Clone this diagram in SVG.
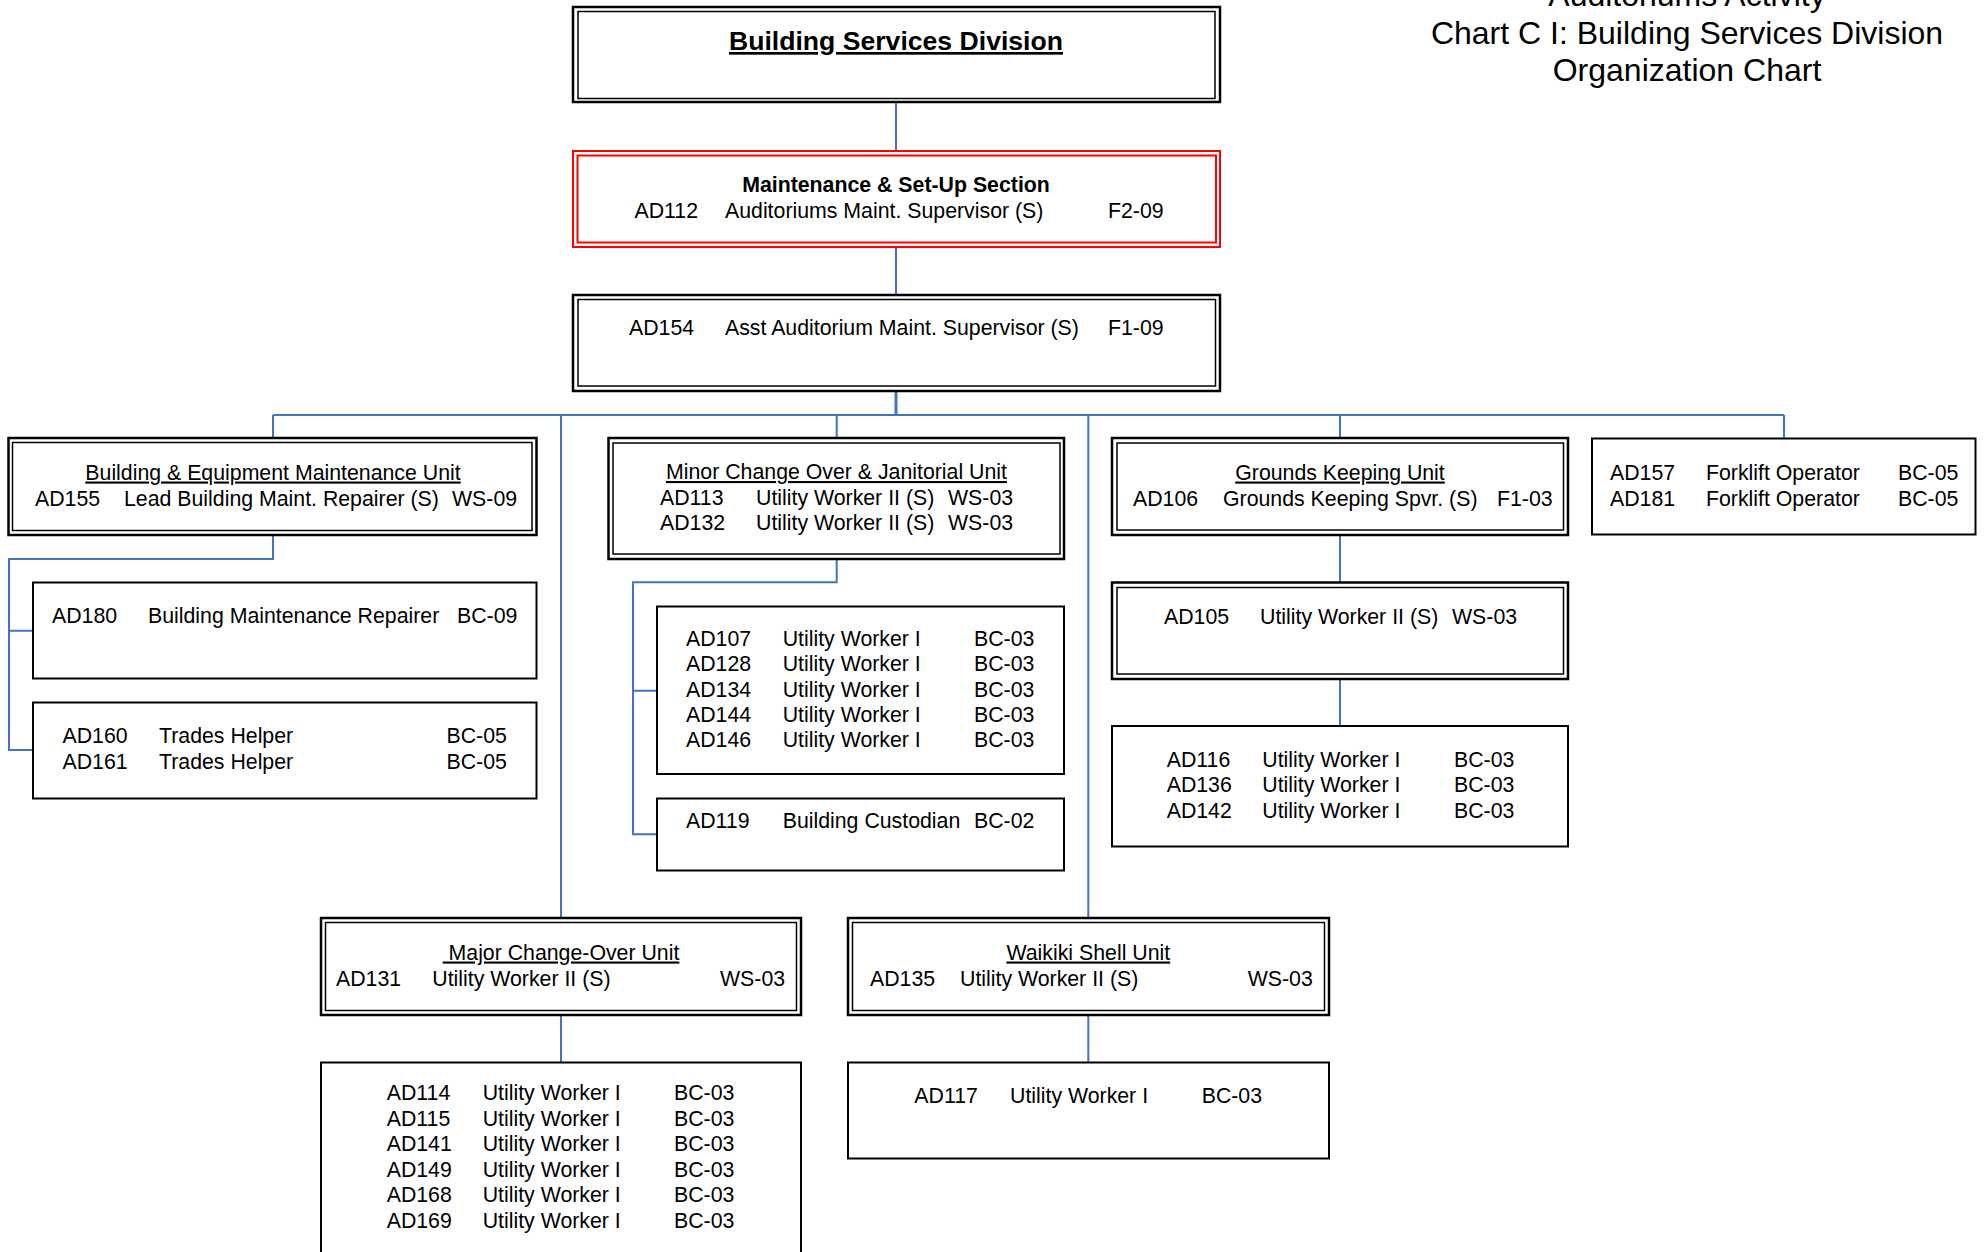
<svg xmlns="http://www.w3.org/2000/svg" width="1986" height="1252" viewBox="0 0 1986 1252">
<style>
text{font-family:"Liberation Sans",Arial,sans-serif;font-size:21.3px;fill:#000}
.t{text-anchor:middle;text-decoration:underline}
.b{font-weight:bold}
.h{font-size:32px;text-anchor:middle}
.o{fill:#fff;stroke:#000;stroke-width:2.5}
.i{fill:none;stroke:#000;stroke-width:1.5}
.s{fill:#fff;stroke:#000;stroke-width:2}
.r{fill:#fff;stroke:#f00;stroke-width:2}
.ri{fill:none;stroke:#f00;stroke-width:2}
.c{fill:none;stroke:#4472C4;stroke-width:2}
</style>
<rect width="1986" height="1252" fill="#fff"/>
<g id="chart-title">
<text class="h" x="1687" y="6">Auditoriums Activity</text>
<text class="h" x="1687" y="43.5">Chart C I: Building Services Division</text>
<text class="h" x="1687" y="81">Organization Chart</text>
</g>
<g id="connectors">
<path class="c" d="M896,103V151M896,247V295"/>
<path class="c" style="stroke-width:3" d="M896,391V415"/>
<path class="c" d="M273,415H1784M273,415V438M836.7,415V438M1340,415V438M1784,415V438.5M561,415V918M1088.3,415V918"/>
<path class="c" d="M273,535V559H9V750H33M9,630.7H33"/>
<path class="c" d="M836.7,559V582.3H633V834.3H657M633,690.7H657"/>
<path class="c" d="M1340,535V582.5M1340,679V726"/>
<path class="c" d="M561,1015V1062.5M1088.3,1015V1062.5"/>
</g>
<g id="division">
<rect class="o" x="573" y="7" width="647" height="95"/>
<rect class="i" x="578" y="11.5" width="637" height="87"/>
<text class="t b" x="896" y="50" style="font-size:26.6px">Building Services Division</text>
</g>
<g id="section">
<rect class="r" x="573" y="151" width="647" height="96"/>
<rect class="ri" x="577.5" y="155.5" width="638.5" height="87"/>
<text class="b" x="896" y="191.5" text-anchor="middle">Maintenance &amp; Set-Up Section</text>
<text x="634.5" y="217.5">AD112</text><text x="725" y="217.5">Auditoriums Maint. Supervisor (S)</text><text x="1108" y="217.5">F2-09</text>
</g>
<g id="asst">
<rect class="o" x="573" y="295" width="647" height="96"/>
<rect class="i" x="578" y="299.5" width="637.5" height="86.5"/>
<text x="629" y="335">AD154</text><text x="725" y="335">Asst Auditorium Maint. Supervisor (S)</text><text x="1108" y="335">F1-09</text>
</g>
<g id="bemu">
<rect class="o" x="8.5" y="438" width="528" height="97"/>
<rect class="i" x="12.5" y="442.5" width="519.5" height="88"/>
<text class="t" x="273" y="479.5">Building &amp; Equipment Maintenance Unit</text>
<text x="35" y="505.5">AD155</text><text x="124" y="505.5">Lead Building Maint. Repairer (S)</text><text x="452" y="505.5">WS-09</text>
</g>
<g id="ad180">
<rect class="s" x="33" y="582.5" width="503.5" height="96"/>
<text x="52" y="623">AD180</text><text x="148" y="623">Building Maintenance Repairer</text><text x="457" y="623">BC-09</text>
</g>
<g id="trades">
<rect class="s" x="33" y="702.5" width="503.5" height="96"/>
<text x="62.5" y="743">AD160</text><text x="159" y="743">Trades Helper</text><text x="446.5" y="743">BC-05</text>
<text x="62.5" y="769">AD161</text><text x="159" y="769">Trades Helper</text><text x="446.5" y="769">BC-05</text>
</g>
<g id="minor">
<rect class="o" x="608.5" y="438" width="455.5" height="121"/>
<rect class="i" x="613" y="443" width="447" height="111"/>
<text class="t" x="836.5" y="479">Minor Change Over &amp; Janitorial Unit</text>
<text x="660" y="504.5">AD113</text><text x="756" y="504.5">Utility Worker II (S)</text><text x="948" y="504.5">WS-03</text>
<text x="660" y="530.2">AD132</text><text x="756" y="530.2">Utility Worker II (S)</text><text x="948" y="530.2">WS-03</text>
</g>
<g id="minor-workers">
<rect class="s" x="657" y="606.5" width="407" height="167.5"/>
<text x="686" y="645.5">AD107</text><text x="782.7" y="645.5">Utility Worker I</text><text x="974" y="645.5">BC-03</text>
<text x="686" y="671">AD128</text><text x="782.7" y="671">Utility Worker I</text><text x="974" y="671">BC-03</text>
<text x="686" y="696.5">AD134</text><text x="782.7" y="696.5">Utility Worker I</text><text x="974" y="696.5">BC-03</text>
<text x="686" y="721.5">AD144</text><text x="782.7" y="721.5">Utility Worker I</text><text x="974" y="721.5">BC-03</text>
<text x="686" y="747">AD146</text><text x="782.7" y="747">Utility Worker I</text><text x="974" y="747">BC-03</text>
</g>
<g id="custodian">
<rect class="s" x="657" y="798.5" width="407" height="72"/>
<text x="686" y="827.5">AD119</text><text x="782.7" y="827.5">Building Custodian</text><text x="974" y="827.5">BC-02</text>
</g>
<g id="grounds">
<rect class="o" x="1112" y="438" width="456" height="97"/>
<rect class="i" x="1117" y="443" width="446.5" height="87"/>
<text class="t" x="1340" y="479.5">Grounds Keeping Unit</text>
<text x="1133" y="505.5">AD106</text><text x="1223" y="505.5">Grounds Keeping Spvr. (S)</text><text x="1497" y="505.5">F1-03</text>
</g>
<g id="ad105">
<rect class="o" x="1112" y="582.5" width="456" height="96.5"/>
<rect class="i" x="1117" y="587.5" width="446.5" height="86.5"/>
<text x="1164" y="623.5">AD105</text><text x="1260" y="623.5">Utility Worker II (S)</text><text x="1452" y="623.5">WS-03</text>
</g>
<g id="grounds-workers">
<rect class="s" x="1112" y="726" width="456" height="120.5"/>
<text x="1166.7" y="766.5">AD116</text><text x="1262.3" y="766.5">Utility Worker I</text><text x="1454" y="766.5">BC-03</text>
<text x="1166.7" y="792">AD136</text><text x="1262.3" y="792">Utility Worker I</text><text x="1454" y="792">BC-03</text>
<text x="1166.7" y="817.5">AD142</text><text x="1262.3" y="817.5">Utility Worker I</text><text x="1454" y="817.5">BC-03</text>
</g>
<g id="forklift">
<rect class="s" x="1592" y="438.5" width="383.5" height="96"/>
<text x="1610" y="479.5">AD157</text><text x="1706" y="479.5">Forklift Operator</text><text x="1898" y="479.5">BC-05</text>
<text x="1610" y="505.5">AD181</text><text x="1706" y="505.5">Forklift Operator</text><text x="1898" y="505.5">BC-05</text>
</g>
<g id="major">
<rect class="o" x="321" y="918" width="480" height="97"/>
<rect class="i" x="325.5" y="922.5" width="471" height="88"/>
<text class="t" x="561" y="959.5">&#160;Major Change-Over Unit</text>
<text x="336" y="985.5">AD131</text><text x="432.3" y="985.5">Utility Worker II (S)</text><text x="720" y="985.5">WS-03</text>
</g>
<g id="major-workers">
<rect class="s" x="321" y="1062.5" width="480" height="220"/>
<text x="386.7" y="1099.5">AD114</text><text x="482.7" y="1099.5">Utility Worker I</text><text x="674" y="1099.5">BC-03</text>
<text x="386.7" y="1125.5">AD115</text><text x="482.7" y="1125.5">Utility Worker I</text><text x="674" y="1125.5">BC-03</text>
<text x="386.7" y="1151.2">AD141</text><text x="482.7" y="1151.2">Utility Worker I</text><text x="674" y="1151.2">BC-03</text>
<text x="386.7" y="1176.5">AD149</text><text x="482.7" y="1176.5">Utility Worker I</text><text x="674" y="1176.5">BC-03</text>
<text x="386.7" y="1202.2">AD168</text><text x="482.7" y="1202.2">Utility Worker I</text><text x="674" y="1202.2">BC-03</text>
<text x="386.7" y="1227.5">AD169</text><text x="482.7" y="1227.5">Utility Worker I</text><text x="674" y="1227.5">BC-03</text>
</g>
<g id="waikiki">
<rect class="o" x="848" y="918" width="481" height="97"/>
<rect class="i" x="852.5" y="922.5" width="472" height="88"/>
<text class="t" x="1088.3" y="959.5">Waikiki Shell Unit</text>
<text x="870" y="985.5">AD135</text><text x="960" y="985.5">Utility Worker II (S)</text><text x="1247.7" y="985.5">WS-03</text>
</g>
<g id="waikiki-workers">
<rect class="s" x="848" y="1062.5" width="481" height="96"/>
<text x="914.3" y="1103">AD117</text><text x="1010" y="1103">Utility Worker I</text><text x="1201.7" y="1103">BC-03</text>
</g>
</svg>
